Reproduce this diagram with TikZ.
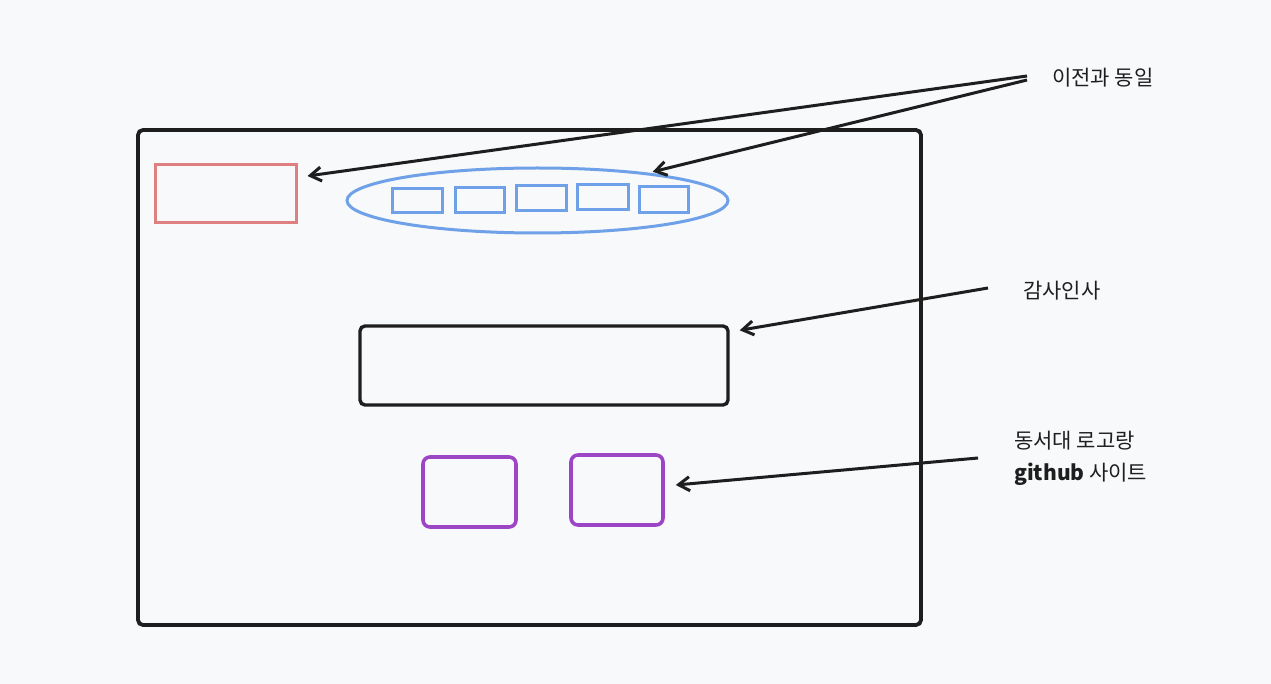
\documentclass[tikz,border=0pt]{standalone}
\usepackage{fontspec}
\setmainfont{Noto Sans CJK KR}
\usetikzlibrary{arrows.meta,shapes.geometric}
\definecolor{bgcol}{HTML}{F8F9FA}
\definecolor{ink}{HTML}{1E1E1E}
\definecolor{logored}{HTML}{E07F7F}
\definecolor{navblue}{HTML}{6FA1E8}
\definecolor{sitepurple}{HTML}{9C45C6}
\tikzset{
  pen/.style={draw=ink, line width=3.4pt},
  callout/.style={draw=ink, line width=3pt, -{Straight Barb[length=11pt,width=14pt,line width=3pt]}},
  label/.style={text=ink, inner sep=0pt, font=\fontsize{21}{32}\selectfont, align=left},
}
\begin{document}
\begin{tikzpicture}[x=1pt, y=-1pt]
\fill[bgcol] (0,0) rectangle (1271,684);
\useasboundingbox (0,0) rectangle (1271,684);

% page frame
\draw[pen, line width=3.8pt, rounded corners=5pt] (138,130) rectangle (921,625);

% header
\node[draw=logored, line width=3pt, shape=rectangle, minimum width=141, minimum height=58] (logo) at (225.5,194) {};
\node[draw=navblue, line width=3pt, shape=ellipse, minimum width=381, minimum height=65, inner sep=0pt] (nav) at (537.5,200.5) {};
\node[draw=navblue, line width=3pt, shape=rectangle, minimum width=50, minimum height=24] (menu1) at (417,201) {};
\node[draw=navblue, line width=3pt, shape=rectangle, minimum width=49, minimum height=25] (menu2) at (479.5,200.5) {};
\node[draw=navblue, line width=3pt, shape=rectangle, minimum width=50, minimum height=25] (menu3) at (541,198.5) {};
\node[draw=navblue, line width=3pt, shape=rectangle, minimum width=51, minimum height=25] (menu4) at (602.5,197.5) {};
\node[draw=navblue, line width=3pt, shape=rectangle, minimum width=49, minimum height=26] (menu5) at (663.5,200) {};

% body
\node[pen, shape=rectangle, rounded corners=5pt, minimum width=368, minimum height=79] (thanks) at (544,365.5) {};
\node[draw=sitepurple, line width=3.6pt, shape=rectangle, rounded corners=7pt, minimum width=93, minimum height=70] (school) at (469.5,492) {};
\node[draw=sitepurple, line width=3.6pt, shape=rectangle, rounded corners=7pt, minimum width=92, minimum height=70] (site) at (617,490) {};

% notes
\node[label, anchor=west] (same-label) at (1052,78) {이전과 동일};
\node[label, anchor=west] (thanks-label) at (1023,291) {감사인사};
\node[label, anchor=west] (site-label) at (1014,458) {동서대 로고랑\\{\bfseries github} 사이트};

\draw[callout] ([xshift=-25pt,yshift=2pt]same-label.west) -- ([xshift=10pt,yshift=18pt]logo.east);
\draw[callout] ([xshift=-25pt,yshift=-2pt]same-label.west) -- ([xshift=4pt,yshift=1pt]nav.14);
\draw[callout] ([xshift=-35pt,yshift=3pt]thanks-label.west) -- ([xshift=10pt,yshift=-6pt]thanks.north east);
\draw[callout] ([xshift=-36pt]site-label.west) -- ([xshift=11pt,yshift=5pt]site.east);

\end{tikzpicture}
\end{document}
